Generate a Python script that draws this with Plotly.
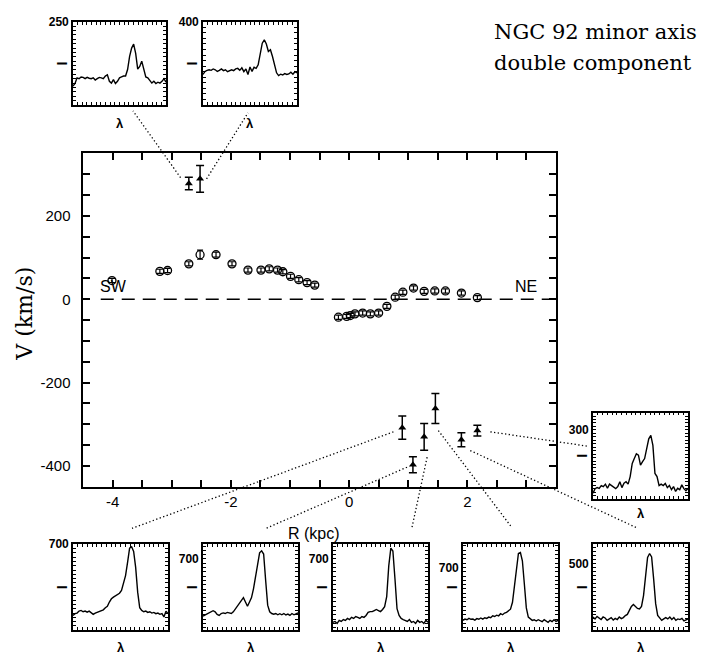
import plotly.graph_objects as go

W, H = 724, 654

# ---------------- main panel data ----------------
circ_r = [-4.01, -3.20, -3.07, -2.71, -2.52, -2.25, -1.98, -1.71, -1.49, -1.35, -1.21, -1.12,
          -0.99, -0.85, -0.71, -0.58,
          -0.18, -0.04, 0.02, 0.10, 0.23, 0.36, 0.50, 0.64, 0.78, 0.91, 1.09, 1.27, 1.45,
          1.63, 1.90, 2.17]
circ_v = [45, 67, 69, 85, 107, 107, 85, 70, 70, 73, 70, 66, 55, 47, 40, 34,
          -43, -41, -39, -35, -33, -35, -33, -17, 5, 17, 27, 19, 20, 20, 15, 4]
circ_err = [5, 5, 5, 5, 11, 6, 5, 5, 5, 5, 5, 5, 5, 5, 5, 5,
            5, 5, 5, 5, 5, 5, 5, 5, 5, 5, 5, 5, 5, 5, 5, 5]

tri_r = [-2.71, -2.52, 0.90, 1.08, 1.27, 1.46, 1.90, 2.17]
tri_v = [278, 289, -308, -397, -330, -262, -337, -315]
tri_err = [15, 32, 28, 19, 32, 36, 17, 13]

x_range = [-4.5, 3.5]
y_range = [-450, 350]
x_tickvals = [-4, -2, 0, 2]
x_ticktext = ['-4', '-2', '0', '2']
y_tickvals = [-400, -200, 0, 200]
y_ticktext = ['-400', '-200', '0', '200']
x_minor_step = 0.5
y_minor_step = 50

# ---------------- inset spectra (intensity vs. sample) ----------------
spec_t1 = [103, 109, 122, 120, 124, 123, 120, 123, 121, 120, 122, 117, 120, 123, 122, 120,
           126, 129, 114, 110, 118, 109, 114, 122, 124, 126, 126, 141, 171, 190, 199, 178,
           142, 148, 160, 144, 124, 122, 117, 110, 114, 109, 112, 110, 114, 120, 112]
spec_t2 = [210, 221, 225, 227, 225, 230, 227, 221, 225, 230, 224, 227, 220, 225, 227, 224,
           230, 232, 225, 234, 220, 230, 210, 237, 221, 236, 232, 245, 287, 323, 335, 320,
           293, 299, 275, 245, 216, 206, 211, 208, 213, 210, 212, 218, 211, 220, 216]
spec_r = [117, 130, 133, 131, 139, 136, 143, 131, 143, 139, 136, 130, 136, 150, 133, 146,
          150, 143, 165, 203, 217, 231, 227, 198, 208, 217, 246, 274, 284, 255, 174, 165,
          139, 143, 139, 145, 133, 139, 127, 136, 122, 131, 127, 141, 130, 124, 131]
spec_b1 = [369, 377, 380, 389, 392, 386, 389, 384, 389, 380, 374, 380, 383, 389, 392, 395,
           405, 411, 431, 446, 454, 460, 466, 472, 485, 515, 554, 615, 682, 688, 666, 592,
           477, 405, 392, 386, 389, 383, 386, 380, 383, 377, 380, 374, 377, 362, 389, 377]
spec_b2 = [434, 439, 442, 446, 452, 459, 454, 442, 437, 446, 449, 446, 451, 449, 446, 454,
           468, 480, 492, 511, 520, 500, 480, 500, 520, 562, 615, 677, 729, 738, 723, 600,
           485, 454, 446, 443, 446, 440, 445, 440, 446, 439, 443, 437, 446, 440, 443, 449]
spec_b3 = [405, 409, 400, 414, 409, 418, 414, 423, 418, 428, 423, 432, 428, 423, 432, 428,
           437, 451, 455, 455, 460, 465, 460, 455, 465, 478, 525, 668, 751, 737, 608, 469,
           437, 423, 418, 414, 409, 418, 405, 409, 400, 414, 405, 409, 400, 414, 405]
spec_b4 = [454, 460, 457, 463, 459, 460, 455, 462, 459, 465, 460, 466, 463, 469, 466, 475,
           472, 478, 475, 485, 480, 488, 491, 497, 506, 538, 615, 715, 765, 769, 731, 623,
           512, 469, 460, 454, 457, 451, 457, 454, 448, 457, 451, 445, 454, 448, 457, 449, 454]
spec_b5 = [230, 220, 233, 227, 217, 230, 225, 213, 220, 227, 215, 223, 217, 230, 222, 227,
           237, 243, 263, 283, 293, 283, 273, 270, 283, 338, 447, 530, 550, 533, 422, 297,
           238, 227, 213, 220, 227, 220, 230, 217, 227, 213, 220, 217, 223, 210, 217, 220]

title_lines = ["NGC 92 minor axis", "double component"]

# ---------------- geometry (pixels) ----------------
MAIN = (83, 148, 556, 485)  # left, top, right, bottom

insets = [
    dict(box=(73, 15, 166, 99), yr=[60, 250], label=250, minor=10, spec=spec_t1, lam_dy=19),
    dict(box=(203, 15, 297, 99), yr=[100, 400], label=400, minor=20, spec=spec_t2, lam_dy=19),
    dict(box=(593, 410, 688, 497), yr=[101, 350], label=300, minor=10, spec=spec_r, lam_dy=15),
    dict(box=(73, 543, 168, 630), yr=[300, 700], label=700, minor=20, spec=spec_b1, lam_dy=17),
    dict(box=(203, 543, 298, 630), yr=[368, 769], label=700, minor=20, spec=spec_b2, lam_dy=17),
    dict(box=(333, 543, 428, 630), yr=[368, 769], label=700, minor=20, spec=spec_b3, lam_dy=17),
    dict(box=(463, 543, 558, 630), yr=[408, 808], label=700, minor=20, spec=spec_b4, lam_dy=17),
    dict(box=(593, 543, 688, 630), yr=[163, 597], label=500, minor=20, spec=spec_b5, lam_dy=17),
]

# connectors: start near a data point (data units) -> end near an inset (pixels)
conn_start = [(-2.85, 292), (-2.41, 289), (0.75, -318), (0.98, -403),
              (1.32, -379), (1.51, -315), (2.05, -363), (2.39, -318)]
conn_end_px = [(133, 105), (248, 107), (132, 527), (266, 527),
               (412, 526), (511, 525), (638, 527), (588, 444)]


def px2paper(x, y):
    return x / W, 1 - y / H


def data2paper(r, v):
    fx = (r - x_range[0]) / (x_range[1] - x_range[0])
    fy = (v - y_range[0]) / (y_range[1] - y_range[0])
    px = MAIN[0] + fx * (MAIN[2] - MAIN[0])
    py = MAIN[3] - fy * (MAIN[3] - MAIN[1])
    return px2paper(px, py)


def tick_positions(lo, hi, step):
    """Every multiple of `step` inside [lo, hi]."""
    first = int(-(-lo // step))
    last = int(hi // step)
    return [round(i * step, 6) for i in range(first, last + 1)]


def tick_labels(vals, labelled):
    out = []
    for v in vals:
        hit = [t for tv, t in labelled if abs(tv - v) < 1e-9]
        out.append(hit[0] if hit else '')
    return out


fig = go.Figure()

fig.add_trace(go.Scatter(
    x=circ_r, y=circ_v, mode='markers',
    marker=dict(symbol='circle-open', size=8, color='black', line=dict(width=1.3, color='black')),
    error_y=dict(type='data', array=circ_err, color='black', thickness=1.2, width=3),
    xaxis='x', yaxis='y', showlegend=False))

fig.add_trace(go.Scatter(
    x=tri_r, y=tri_v, mode='markers',
    marker=dict(symbol='triangle-up', size=7, color='black'),
    error_y=dict(type='data', array=tri_err, color='black', thickness=1.5, width=4),
    xaxis='x', yaxis='y', showlegend=False))

PAD = '\u2002'  # en space: keeps the y tick labels a little away from the frame
axis_font = dict(family='Liberation Sans, Arial, sans-serif', size=15, color='black')

main_xt = tick_positions(x_range[0], x_range[1], x_minor_step)
main_yt = tick_positions(y_range[0], y_range[1], y_minor_step)

layout = dict(
    width=W, height=H, autosize=False,
    margin=dict(l=0, r=0, t=0, b=0),
    paper_bgcolor='white', plot_bgcolor='white', showlegend=False,
    xaxis=dict(domain=[MAIN[0] / W, MAIN[2] / W], range=x_range, anchor='y',
               tickmode='array', tickvals=main_xt,
               ticktext=tick_labels(main_xt, list(zip(x_tickvals, x_ticktext))),
               ticks='inside', ticklen=7, tickwidth=1.5, tickcolor='black',
               mirror='allticks', showline=True, linewidth=2, linecolor='black',
               showgrid=False, zeroline=False, tickfont=axis_font),
    yaxis=dict(domain=[1 - MAIN[3] / H, 1 - MAIN[1] / H], range=y_range, anchor='x',
               tickmode='array', tickvals=main_yt,
               ticktext=tick_labels(main_yt, [(v, t + PAD) for v, t in zip(y_tickvals, y_ticktext)]),
               ticks='inside', ticklen=7, tickwidth=1.5, tickcolor='black',
               mirror='allticks', showline=True, linewidth=2, linecolor='black',
               showgrid=False, zeroline=False, tickfont=axis_font),
)

shapes = []
annotations = []

shapes.append(dict(type='line', xref='x', yref='y', x0=-4.2, x1=x_range[1], y0=0, y1=0,
                   line=dict(color='black', width=1.5, dash='13px,8px')))

inset_font = dict(family='Liberation Sans, Arial, sans-serif', size=12, color='black', weight='bold')
for i, ins in enumerate(insets):
    k = i + 2
    xr, yr_ = f'x{k}', f'y{k}'
    x0, y0, x1, y1 = ins['box']
    n = len(ins['spec'])
    xs = list(range(n))
    fig.add_trace(go.Scatter(x=xs, y=ins['spec'], mode='lines',
                             line=dict(color='black', width=1.4),
                             xaxis=xr, yaxis=yr_, showlegend=False))
    yt = tick_positions(ins['yr'][0], ins['yr'][1], ins['minor'])
    layout[f'xaxis{k}'] = dict(domain=[x0 / W, x1 / W], range=[0, n - 1], anchor=yr_,
                               tickmode='linear', tick0=0, dtick=(n - 1) / 20,
                               ticks='inside', ticklen=3, tickwidth=1, tickcolor='black',
                               mirror='allticks', showline=True, linewidth=1.6, linecolor='black',
                               showgrid=False, zeroline=False, showticklabels=False)
    layout[f'yaxis{k}'] = dict(domain=[1 - y1 / H, 1 - y0 / H], range=ins['yr'], anchor=xr,
                               tickmode='array', tickvals=yt,
                               ticktext=tick_labels(yt, [(ins['label'], str(ins['label']))]),
                               ticks='inside', ticklen=3, tickwidth=1, tickcolor='black',
                               mirror='allticks', showline=True, linewidth=1.6, linecolor='black',
                               showgrid=False, zeroline=False, tickfont=inset_font)

    ax_, ay_ = px2paper(x0 - 11, (y0 + y1) / 2)
    annotations.append(dict(x=ax_, y=ay_, xref='paper', yref='paper', text='<b>I</b>',
                            textangle=-90, showarrow=False, xanchor='center', yanchor='middle',
                            font=dict(family='Liberation Sans, Arial, sans-serif', size=14, color='black')))
    lx, ly = px2paper((x0 + x1) / 2, y1 + ins['lam_dy'])
    annotations.append(dict(x=lx, y=ly, xref='paper', yref='paper', text='<b>λ</b>',
                            showarrow=False, xanchor='center', yanchor='middle',
                            font=dict(family='Liberation Sans, Arial, sans-serif', size=13, color='black')))

for (r, v), (ex, ey) in zip(conn_start, conn_end_px):
    sx, sy = data2paper(r, v)
    qx, qy = px2paper(ex, ey)
    shapes.append(dict(type='line', xref='paper', yref='paper', x0=sx, y0=sy, x1=qx, y1=qy,
                       line=dict(color='black', width=1.3, dash='1.3px,2.4px')))

serif = 'DejaVu Serif, serif'
sans = 'Liberation Sans, Arial, sans-serif'
tx, ty = px2paper(25, 310)
annotations.append(dict(x=tx, y=ty, xref='paper', yref='paper', text='V (km/s)', textangle=-90,
                        showarrow=False, xanchor='center', yanchor='middle',
                        font=dict(family=serif, size=22, color='black')))
tx, ty = px2paper(314, 532)
annotations.append(dict(x=tx, y=ty, xref='paper', yref='paper', text='R (kpc)',
                        showarrow=False, xanchor='center', yanchor='middle',
                        font=dict(family=sans, size=16, color='black')))
tx, ty = px2paper(114, 283)
annotations.append(dict(x=tx, y=ty, xref='paper', yref='paper', text='SW',
                        showarrow=False, xanchor='center', yanchor='middle',
                        font=dict(family=sans, size=16, color='black')))
tx, ty = px2paper(526, 283)
annotations.append(dict(x=tx, y=ty, xref='paper', yref='paper', text='NE',
                        showarrow=False, xanchor='center', yanchor='middle',
                        font=dict(family=sans, size=16, color='black')))
for line_text, ypx in zip(title_lines, [25, 57]):
    tx, ty = px2paper(492, ypx)
    annotations.append(dict(x=tx, y=ty, xref='paper', yref='paper', text=line_text,
                            showarrow=False, xanchor='left', yanchor='middle',
                            font=dict(family=serif, size=21, color='black')))

layout['shapes'] = shapes
layout['annotations'] = annotations
fig.update_layout(**layout)

fig.write_html("out.html")
